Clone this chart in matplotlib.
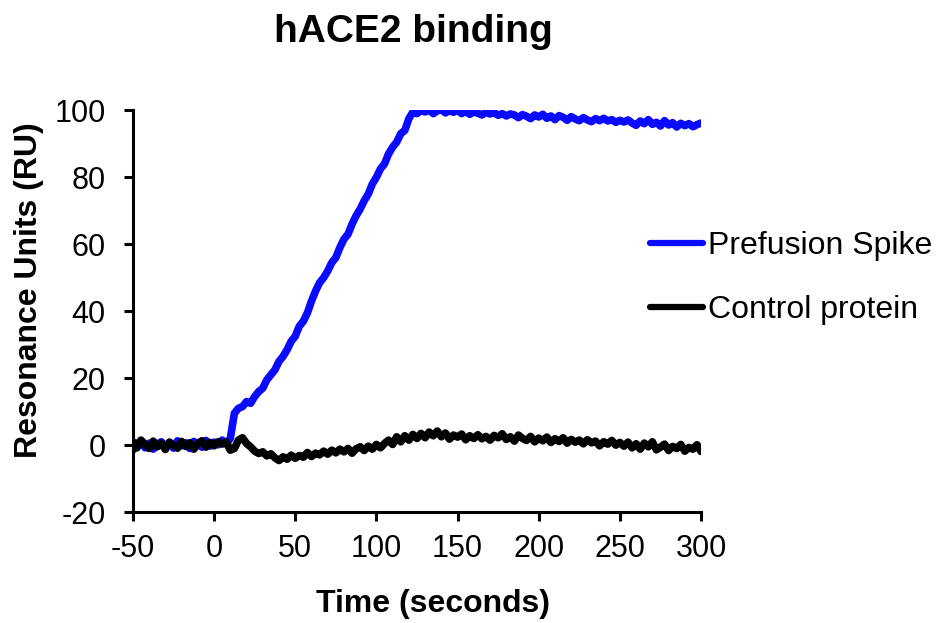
import matplotlib.pyplot as plt
import numpy as np

plt.rcParams['font.family'] = ['Liberation Sans', 'DejaVu Sans']
plt.rcParams['axes.unicode_minus'] = False

# sample times (seconds), 2.5 s apart
time_s = np.arange(-50, 300.1, 2.5)

spike_ru = [
    # -50 .. 7.5 baseline
    -1.5, 0.5, 1.2, -0.8, 0.6, -1.2, 0.3, 1.0, -0.5, 0.8, -0.9, 1.3,
    -0.2, 0.7, -1.0, 1.1, 0.2, -0.6, 1.4, -0.3, 0.9, 0.1, 1.5, 0.4,
    # 10 .. 125 association
    2.0, 9.5, 11.0, 11.5, 13.0, 12.5, 14.5, 16.0, 17.0, 19.5,
    21.0, 22.5, 25.0, 26.5, 28.5, 31.0, 32.5, 35.5, 37.0, 39.5,
    43.0, 46.0, 48.5, 50.0, 52.0, 54.5, 56.0, 59.0, 61.5, 63.0,
    66.0, 68.5, 70.5, 73.0, 75.0, 78.0, 80.0, 82.5, 84.0, 87.0,
    89.0, 90.5, 93.0, 94.0, 97.5, 99.5, 99.0,
    # 127.5 .. 300 plateau
    100.0, 99.5, 100.2, 99.0, 99.8, 100.3, 99.2, 99.9, 99.4, 100.1,
    99.0, 99.7, 98.8, 99.5, 99.1, 98.6, 99.4, 98.9, 99.3, 98.5,
    99.0, 98.3, 98.9, 98.6, 97.8, 98.7, 98.2, 97.5, 98.6, 98.0,
    98.8, 97.6, 98.3, 97.2, 98.4, 97.9, 97.0, 98.1, 97.4, 96.9,
    97.8, 97.1, 96.6, 97.5, 96.9, 97.6, 96.8, 97.2, 96.4, 97.0,
    96.5, 97.1, 96.2, 95.5, 96.8, 96.0, 97.2, 95.8, 96.4, 95.3,
    96.9, 95.6, 96.3, 95.0, 96.1, 95.4, 96.0, 95.1, 95.7, 96.2,
]

control_ru = [
    1.0, -0.8, 1.5, 0.2, -1.0, 1.2, -0.5, 0.6, -1.3, 0.9, 0.0, -0.9,
    1.1, -0.4, 0.7, -1.2, 0.5, 1.3, -0.6, 0.8, -0.2, 1.0, 0.3, 0.9,
    -1.5, -1.0, 1.5, 2.2, 0.5, -0.5, -1.8, -2.5, -2.0, -3.2,
    -2.6, -3.8, -4.6, -3.5, -4.2, -3.0, -3.9, -3.1, -3.6, -2.2,
    -3.4, -2.4, -2.9, -1.8, -2.7, -1.5, -2.3, -1.2, -2.0, -1.0,
    -2.4, -1.1, -0.5, -1.6, -0.3, -1.2, 0.2, -0.8, 0.5, 1.5,
    0.2, 2.5, 1.0, 2.8, 1.5, 3.2, 2.0,
    3.5, 2.2, 3.9, 2.8, 4.2, 2.5, 3.6, 1.8, 3.0, 2.4,
    3.3, 1.6, 2.8, 2.0, 3.1, 1.9, 2.6, 1.5, 2.9, 2.2,
    3.4, 1.7, 2.5, 1.2, 3.0, 2.0, 1.4, 2.6, 1.0, 2.1,
    1.3, 2.4, 0.8, 1.9, 1.1, 2.2, 0.6, 1.7, 0.9, 1.5,
    0.4, 1.6, 0.7, 1.2, -0.2, 1.0, 0.3, 1.4, 0.0, 0.8,
    -0.3, 0.9, -0.8, 0.4, -1.2, 0.6, -0.5, 1.0, -1.4, -0.6,
    0.3, -1.6, -0.4, -1.0, 0.2, -1.8, -0.7, -1.2, 0.1, -1.9,
]

x_ticks = [-50, 0, 50, 100, 150, 200, 250, 300]
y_ticks = [-20, 0, 20, 40, 60, 80, 100]

fig = plt.figure(figsize=(9.36, 6.23), dpi=100)
ax = fig.add_axes([0.142, 0.178, 0.607, 0.645])

ax.plot(time_s, spike_ru, color="#0a0aff", lw=5.5, label="Prefusion Spike",
        solid_capstyle="round", solid_joinstyle="round")
ax.plot(time_s, control_ru, color="black", lw=5.5, label="Control protein",
        solid_capstyle="round", solid_joinstyle="round")

ax.set_xlim(-50, 300)
ax.set_ylim(-20, 100)
ax.set_xticks(x_ticks)
ax.set_yticks(y_ticks)

for side in ["top", "right"]:
    ax.spines[side].set_visible(False)
for side in ["left", "bottom"]:
    ax.spines[side].set_linewidth(2.2)
ax.tick_params(direction="out", length=6.5, width=2.2, labelsize=22)
ax.tick_params(axis="y", pad=13)
ax.tick_params(axis="x", pad=9)

ax.set_xlabel("Time (seconds)", fontsize=23, fontweight="bold")
ax.xaxis.set_label_coords(0.528, -0.192)
ax.set_ylabel("Resonance Units (RU)", fontsize=23, fontweight="bold")
ax.yaxis.set_label_coords(-0.156, 0.552)
fig.text(0.442, 1 - 42 / 623, "hACE2 binding", fontsize=28, fontweight="bold",
         ha="center", va="baseline")

leg = ax.legend(loc="center left", bbox_to_anchor=(0.6945, 0.5535),
                bbox_transform=fig.transFigure, frameon=False, fontsize=23,
                handlelength=1.65, handletextpad=0.15, labelspacing=1.05,
                borderpad=0, borderaxespad=0)
for line in leg.get_lines():
    line.set_linewidth(4.5)

fig.savefig("out.png", dpi=100)
